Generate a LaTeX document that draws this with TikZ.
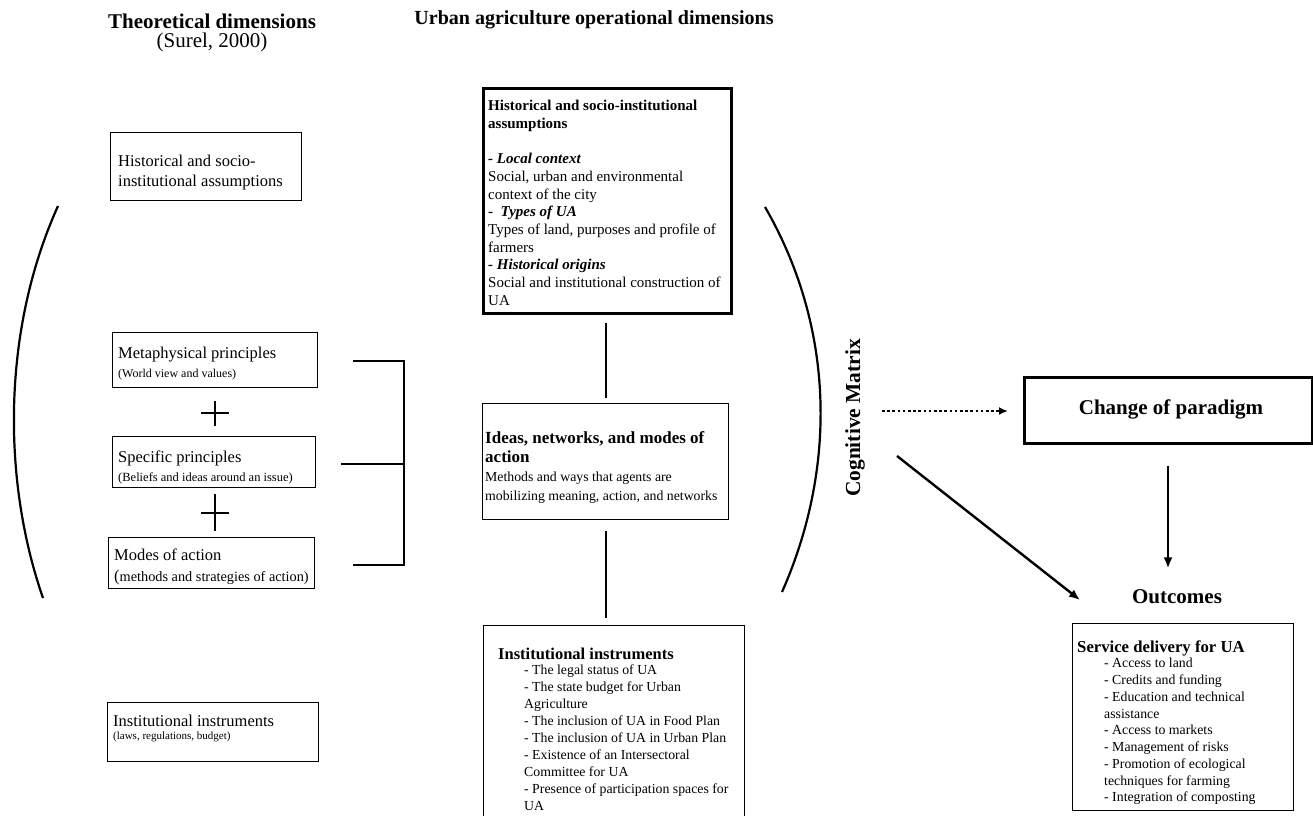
\documentclass[tikz,border=0pt]{standalone}
\usepackage{fontspec}
\setmainfont{Liberation Serif}
\usetikzlibrary{arrows.meta}
\begin{document}
\begin{tikzpicture}[x=1pt,y=-1pt,
  box/.style={draw, line width=1pt, inner sep=0pt, anchor=north west},
  thickbox/.style={draw, line width=2.6pt, inner sep=0pt, anchor=north west},
  txt/.style={inner sep=0pt, anchor=north west, align=left},
  big/.style={font=\fontsize{16.5}{20}\selectfont},
  body/.style={font=\fontsize{15}{17.7}\selectfont},
  item/.style={font=\fontsize{13.8}{16.9}\selectfont},
  conn/.style={line width=2.6pt},
  arr/.style={line width=2.4pt, -{Latex[length=11pt,width=9pt]}}
]
\useasboundingbox (0,0) rectangle (1313,815);

% headers
\node[font=\bfseries\fontsize{21}{24}\selectfont] (h1) at (212,21) {Theoretical dimensions};
\node[font=\fontsize{21}{24}\selectfont] (h1b) at (212,42) {(Surel, 2000)};
\node[font=\bfseries\fontsize{20}{24}\selectfont] (h2) at (594,20) {Urban agriculture operational dimensions};

% left column
\node[box, minimum width=191pt, minimum height=68pt] (L1) at (110,132) {};
\node[txt, big] (L1t) at (118,155) {Historical and socio-\\institutional assumptions};

\node[box, minimum width=205pt, minimum height=55pt] (L2) at (112,332) {};
\node[txt, big] (L2t) at (118,347) {Metaphysical principles};
\node[txt, font=\fontsize{12}{14}\selectfont] (L2s) at (118,369) {(World view and values)};

\node[box, minimum width=203pt, minimum height=51pt] (L3) at (112,436) {};
\node[txt, big] (L3t) at (118,451) {Specific principles};
\node[txt, font=\fontsize{12.5}{14}\selectfont] (L3s) at (118,472) {(Beliefs and ideas around an issue)};

\node[box, minimum width=206pt, minimum height=51pt] (L4) at (108,537) {};
\node[txt, big] (L4t) at (114,549) {Modes of action};
\node[inner sep=0pt, anchor=base west, font=\fontsize{14.3}{16}\selectfont] (L4s) at (114,581) {{\fontsize{16.5}{17}\selectfont(}methods and strategies of action)};

\node[box, minimum width=211pt, minimum height=59pt] (L5) at (107,702) {};
\node[txt, big] (L5t) at (113,715) {Institutional instruments};
\node[txt, font=\fontsize{11}{13}\selectfont] (L5s) at (113,732) {(laws, regulations, budget)};

% plus signs
\draw[line width=2.4pt] (201,413) -- (229,413) (215,401) -- (215,426);
\draw[line width=2.4pt] (201,513) -- (229,513) (215,494) -- (215,531);

% bracket
\draw[line width=2.6pt] (353,361) -- (404,361) -- (404,565) -- (353,565);
\draw[line width=2.6pt] (341,464) -- (404,464);

% parentheses
\draw[line width=2.2pt] (58,206) .. controls (2,330) and (2,480) .. (43,598);
\draw[line width=2.2pt] (765,207) .. controls (836,330) and (836,470) .. (782,592);

% center column
\node[thickbox, minimum width=248pt, minimum height=225pt] (C1) at (482,87) {};
\node[txt, body] (C1t) at (488,100) {\textbf{Historical and socio-institutional}\\\textbf{assumptions}\\[17.7pt]
\textbf{\textit{- Local context}}\\Social, urban and environmental\\context of the city\\
\textbf{-\ \ \textit{Types of UA}}\\Types of land, purposes and profile of\\farmers\\
\textbf{\textit{- Historical origins}}\\Social and institutional construction of\\UA};

\node[box, line width=1.4pt, minimum width=246pt, minimum height=116pt] (C2) at (482,403) {};
\node[txt, font=\fontsize{13.8}{19}\selectfont] (C2t) at (485,431) {{\bfseries\fontsize{17}{19}\selectfont Ideas, networks, and modes of}\\{\bfseries\fontsize{17}{19}\selectfont action}\\Methods and ways that agents are\\mobilizing meaning, action, and networks};

\node[box, line width=1.4pt, minimum width=261pt, minimum height=200pt] (C3) at (483,625) {};
\node[txt, font=\bfseries\fontsize{16.5}{18}\selectfont] (C3t) at (498,648) {Institutional instruments};
\node[txt, item] (C3i) at (524,665) {- The legal status of UA\\- The state budget for Urban\\Agriculture\\- The inclusion of UA in Food Plan\\- The inclusion of UA in Urban Plan\\- Existence of an Intersectoral\\Committee for UA\\- Presence of participation spaces for\\UA};

\coordinate (vx) at (606,0);
\draw[conn, shorten <=8pt, shorten >=5pt] (C1.south -| vx) -- (C2.north -| vx);
\draw[conn, shorten <=11pt, shorten >=7pt] (C2.south -| vx) -- (C3.north -| vx);

% cognitive matrix
\node[rotate=90, font=\bfseries\fontsize{21.4}{24}\selectfont] (CM) at (855,418) {Cognitive Matrix};

% right column
\node[thickbox, minimum width=288pt, minimum height=66pt] (P) at (1023,376) {};
\node[font=\bfseries\fontsize{21}{24}\selectfont] (Pt) at (1171,409) {Change of paradigm};

\node[font=\bfseries\fontsize{21}{24}\selectfont] (O) at (1177,597) {Outcomes};
\node[box, line width=1.4pt, minimum width=221pt, minimum height=187pt] (R) at (1072,623) {};
\node[txt, font=\bfseries\fontsize{16.7}{18}\selectfont] (Rt) at (1077,641) {Service delivery for UA};
\node[txt, font=\fontsize{13.8}{16.75}\selectfont] (Ri) at (1104,658) {- Access to land\\- Credits and funding\\- Education and technical\\assistance\\- Access to markets\\- Management of risks\\- Promotion of ecological\\techniques for farming\\- Integration of composting};

% arrows
\coordinate (d1) at (882,411);
\coordinate (g1) at (897,456);
\coordinate (g2) at (1080,600);
\coordinate (ax) at (1168,0);
\draw[line width=2.4pt, dash pattern=on 2.6pt off 2.6pt, -{Latex[length=9pt,width=8pt]}, shorten >=15pt] (d1) -- (P.west |- d1);
\draw[arr] (g1) -- (g2);
\draw[arr, shorten <=21pt, shorten >=18pt] (P.south -| ax) -- (O.north -| ax);
\end{tikzpicture}
\end{document}
